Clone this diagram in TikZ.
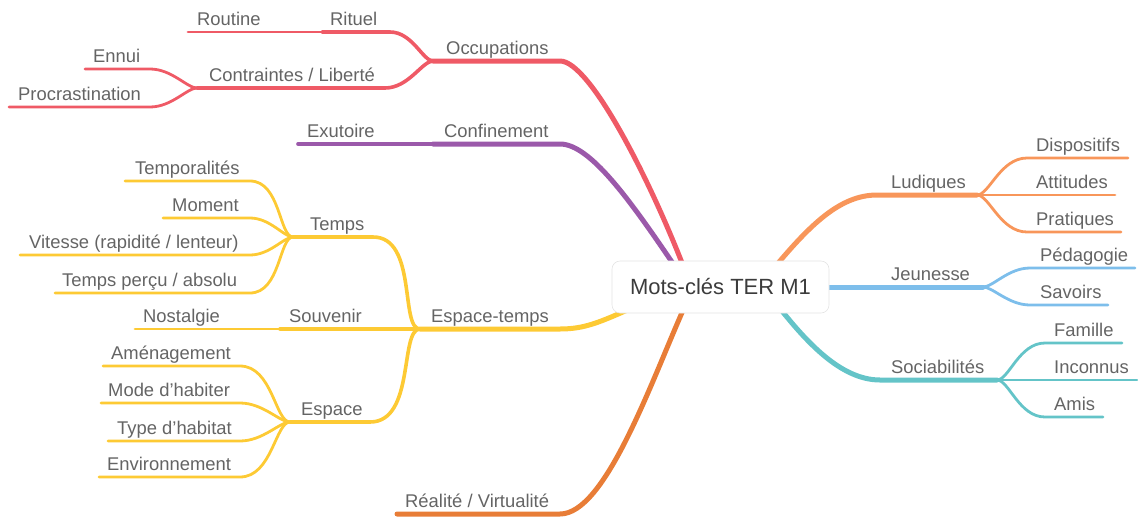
\documentclass[tikz,border=0pt]{standalone}
\usepackage{fontspec}
\setmainfont{Liberation Sans}
\usetikzlibrary{calc}
\definecolor{cred}{RGB}{239,90,102}
\definecolor{cpurple}{RGB}{155,89,170}
\definecolor{cyellow}{RGB}{253,202,52}
\definecolor{cdorange}{RGB}{232,125,55}
\definecolor{corange}{RGB}{248,150,90}
\definecolor{cblue}{RGB}{125,190,235}
\definecolor{cteal}{RGB}{100,196,200}
\definecolor{labgray}{RGB}{100,100,100}
\definecolor{ctrtext}{RGB}{60,60,60}
\definecolor{boxgray}{RGB}{228,228,228}
\pgfdeclarelayer{bg}
\pgfsetlayers{bg,main}
\begin{document}
\begin{tikzpicture}[x=1pt,y=-1pt,
  lab/.style={anchor=base west, inner sep=0pt, text=labgray, font=\fontsize{18.4}{20}\selectfont},
  b1/.style={line width=5pt, line cap=round},
  b2/.style={line width=3.6pt, line cap=round},
  b3/.style={line width=2.8pt, line cap=round},
  sl/.style={out=180,in=0,out looseness=0.5,in looseness=1.1},
  sr/.style={out=0,in=180,out looseness=0.5,in looseness=1.1}]
\useasboundingbox (0,0) rectangle (1138,520);

% central node
\node[draw=boxgray, fill=white, rounded corners=8pt, minimum width=217pt, minimum height=52pt,
  line width=0.6pt, text=ctrtext, font=\fontsize{22}{26}\selectfont] (ctr) at (720.5,287) {Mots-clés TER M1};

% coordinates
\coordinate (occS) at (684,268); \coordinate (occB) at (560,61); \coordinate (occF) at (433,61);
\coordinate (ritB) at (390,32); \coordinate (ritE) at (322,32); \coordinate (rouE) at (188,32);
\coordinate (conB) at (385,88); \coordinate (conF) at (197,88);
\coordinate (ennB) at (150,69); \coordinate (ennE) at (85,69);
\coordinate (proB) at (150,107); \coordinate (proE) at (9,107);
\coordinate (cnfS) at (676,268); \coordinate (cnfB) at (560,144); \coordinate (cnfF) at (433,144); \coordinate (exuE) at (298,144);
\coordinate (etS) at (632,308); \coordinate (etB) at (560,329); \coordinate (etF) at (420,329);
\coordinate (tmpB) at (373,237); \coordinate (tmpF) at (293,237);
\coordinate (tpoB) at (250,181); \coordinate (tpoE) at (125,181);
\coordinate (momB) at (250,218); \coordinate (momE) at (163,218);
\coordinate (vitB) at (250,255); \coordinate (vitE) at (20,255);
\coordinate (tpsB) at (250,293); \coordinate (tpsE) at (55,293);
\coordinate (souE) at (280,329); \coordinate (nosE) at (135,329);
\coordinate (espB) at (370,422); \coordinate (espF) at (290,422);
\coordinate (amnB) at (240,366); \coordinate (amnE) at (103,366);
\coordinate (modB) at (240,403); \coordinate (modE) at (101,403);
\coordinate (typB) at (240,441); \coordinate (typE) at (108,441);
\coordinate (envB) at (240,477); \coordinate (envE) at (99,477);
\coordinate (reS) at (684,308); \coordinate (reB) at (560,514); \coordinate (reE) at (397,514);
\coordinate (luS) at (774,268); \coordinate (luB) at (877,195); \coordinate (luF) at (977,195);
\coordinate (disB) at (1027,158); \coordinate (disE) at (1128,158);
\coordinate (attE) at (1115,195);
\coordinate (praB) at (1027,232); \coordinate (praE) at (1121,232);
\coordinate (jeS) at (822,287); \coordinate (jeF) at (983,287);
\coordinate (pedB) at (1030,268); \coordinate (pedE) at (1135,268);
\coordinate (savB) at (1030,305); \coordinate (savE) at (1108,305);
\coordinate (soS) at (778,306); \coordinate (soB) at (880,380); \coordinate (soF) at (997,380);
\coordinate (famB) at (1045,343); \coordinate (famE) at (1122,343);
\coordinate (incE) at (1137,380);
\coordinate (amiB) at (1045,417); \coordinate (amiE) at (1103,417);

\begin{pgfonlayer}{bg}
% Occupations
\draw[b1,cred] (occS) .. controls (650,180) and (590,61) .. (occB) -- (occF);
\draw[b2,cred] (occF) to[sl] (ritB) -- (ritE);
\draw[b3,cred] (ritE) -- (rouE);
\draw[b2,cred] (occF) to[sl] (conB) -- (conF);
\draw[b3,cred] (conF) to[sl] (ennB) -- (ennE);
\draw[b3,cred] (conF) to[sl] (proB) -- (proE);
% Confinement
\draw[b1,cpurple] (cnfS) .. controls (630,200) and (590,144) .. (cnfB) -- (cnfF);
\draw[b2,cpurple] (cnfF) -- (exuE);
% Espace-temps
\draw[b1,cyellow] (etS) .. controls (600,322) and (585,329) .. (etB) -- (etF);
\draw[b2,cyellow] (etF) to[sl] (tmpB) -- (tmpF);
\draw[b3,cyellow] (tmpF) to[sl] (tpoB) -- (tpoE);
\draw[b3,cyellow] (tmpF) to[sl] (momB) -- (momE);
\draw[b3,cyellow] (tmpF) to[sl] (vitB) -- (vitE);
\draw[b3,cyellow] (tmpF) to[sl] (tpsB) -- (tpsE);
\draw[b2,cyellow] (etF) -- (souE);
\draw[b3,cyellow] (souE) -- (nosE);
\draw[b2,cyellow] (etF) to[sl] (espB) -- (espF);
\draw[b3,cyellow] (espF) to[sl] (amnB) -- (amnE);
\draw[b3,cyellow] (espF) to[sl] (modB) -- (modE);
\draw[b3,cyellow] (espF) to[sl] (typB) -- (typE);
\draw[b3,cyellow] (espF) to[sl] (envB) -- (envE);
% Realite
\draw[b1,cdorange] (reS) .. controls (650,385) and (605,514) .. (reB) -- (reE);
% Ludiques
\draw[b1,corange] (luS) .. controls (810,225) and (840,195) .. (luB) -- (luF);
\draw[b3,corange] (luF) to[sr] (disB) -- (disE);
\draw[b3,corange] (luF) -- (attE);
\draw[b3,corange] (luF) to[sr] (praB) -- (praE);
% Jeunesse
\draw[b1,cblue] (jeS) -- (jeF);
\draw[b3,cblue] (jeF) to[sr] (pedB) -- (pedE);
\draw[b3,cblue] (jeF) to[sr] (savB) -- (savE);
% Sociabilites
\draw[b1,cteal] (soS) .. controls (805,340) and (840,380) .. (soB) -- (soF);
\draw[b3,cteal] (soF) to[sr] (famB) -- (famE);
\draw[b3,cteal] (soF) -- (incE);
\draw[b3,cteal] (soF) to[sr] (amiB) -- (amiE);
\end{pgfonlayer}

% labels
\node[lab] (lRou) at (197,25) {Routine};
\node[lab] (lRit) at (330,25) {Rituel};
\node[lab] (lEnn) at (93,62) {Ennui};
\node[lab] (lPro) at (18,100) {Procrastination};
\node[lab] (lCon) at (209,81) {Contraintes / Liberté};
\node[lab] (lOcc) at (446,54) {Occupations};
\node[lab] (lExu) at (307,137) {Exutoire};
\node[lab] (lCnf) at (444,137) {Confinement};
\node[lab] (lTpo) at (135,174) {Temporalités};
\node[lab] (lMom) at (172,211) {Moment};
\node[lab] (lVit) at (29,248) {Vitesse (rapidité / lenteur)};
\node[lab] (lTps) at (62,286) {Temps perçu / absolu};
\node[lab] (lTmp) at (310,230) {Temps};
\node[lab] (lNos) at (143,322) {Nostalgie};
\node[lab] (lSou) at (289,322) {Souvenir};
\node[lab] (lEt) at (431,322) {Espace-temps};
\node[lab] (lAmn) at (111,359) {Aménagement};
\node[lab] (lMod) at (108,396) {Mode d’habiter};
\node[lab] (lTyp) at (117,434) {Type d’habitat};
\node[lab] (lEnv) at (107,470) {Environnement};
\node[lab] (lEsp) at (301,415) {Espace};
\node[lab] (lRe) at (405,507) {Réalité / Virtualité};
\node[lab] (lLu) at (891,188) {Ludiques};
\node[lab] (lDis) at (1036,151) {Dispositifs};
\node[lab] (lAtt) at (1036,188) {Attitudes};
\node[lab] (lPra) at (1036,225) {Pratiques};
\node[lab] (lJe) at (891,280) {Jeunesse};
\node[lab] (lPed) at (1040,261) {Pédagogie};
\node[lab] (lSav) at (1040,298) {Savoirs};
\node[lab] (lSo) at (891,373) {Sociabilités};
\node[lab] (lFam) at (1054,336) {Famille};
\node[lab] (lInc) at (1054,373) {Inconnus};
\node[lab] (lAmi) at (1054,410) {Amis};
\end{tikzpicture}
\end{document}
